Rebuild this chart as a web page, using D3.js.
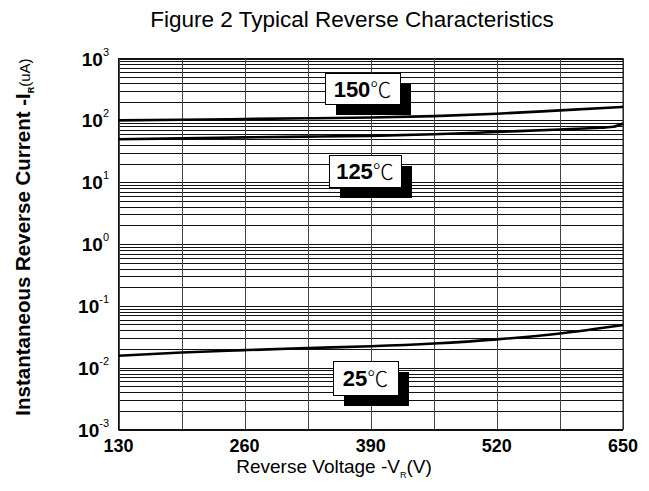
<!DOCTYPE html>
<html>
<head>
<meta charset="utf-8">
<script src="https://cdn.jsdelivr.net/npm/d3@7"></script>
<style>
  body { margin: 0; background: #fff; }
  text { font-family: "Liberation Sans", Arial, sans-serif; }
</style>
</head>
<body>
<div id="chart"></div>
<script>
"use strict";

// values (V in volts, I in uA)
const volts150 = [130, 195, 260, 325, 390, 455, 520, 585, 650];
const current150 = [100, 102, 105, 108, 111, 117, 128, 145, 165];

const volts125 = [130, 195, 260, 325, 390, 455, 520, 585, 620, 640, 650];
const current125 = [49.5, 51, 53, 54.5, 56, 59.5, 65, 71, 75, 79, 89];

const volts25 = [130, 195, 260, 325, 390, 455, 520, 585, 650];
const current25 = [0.0156, 0.0176, 0.0192, 0.0208, 0.0222, 0.0246, 0.0287, 0.0357, 0.049];

const gridVolts = [130, 195, 260, 325, 390, 455, 520, 585, 650];
const labelVolts = [130, 260, 390, 520, 650];
const decades = [-3, -2, -1, 0, 1, 2, 3];
const tempLabels = ["150", "125", "25"];

const W = 649, H = 491;
const plotL = 118.5, plotR = 623, plotT = 58.5, plotB = 429.5;

const x = d3.scaleLinear().domain([130, 650]).range([plotL, plotR]);
const y = d3.scaleLog().domain([1e-3, 1e3]).range([plotB, plotT]);

const svg = d3.select("#chart").append("svg")
  .attr("width", W)
  .attr("height", H);

// minor + major horizontal grid
const hLines = [];
decades.slice(0, -1).forEach(e => {
  for (let m = 1; m < 10; m++) hLines.push(m * Math.pow(10, e));
});
hLines.push(1e3);

svg.append("g")
  .selectAll("line")
  .data(hLines)
  .enter()
  .append("line")
  .attr("x1", plotL).attr("x2", plotR)
  .attr("y1", d => Math.round(y(d)) + 0.5)
  .attr("y2", d => Math.round(y(d)) + 0.5)
  .attr("stroke", "#111")
  .attr("stroke-width", 1);

svg.append("g")
  .selectAll("line")
  .data(gridVolts)
  .enter()
  .append("line")
  .attr("x1", d => Math.round(x(d)) + 0.5)
  .attr("x2", d => Math.round(x(d)) + 0.5)
  .attr("y1", plotT).attr("y2", plotB)
  .attr("stroke", "#444")
  .attr("stroke-width", 1);

svg.append("rect")
  .attr("x", plotL).attr("y", plotT)
  .attr("width", plotR - plotL).attr("height", plotB - plotT)
  .attr("fill", "none")
  .attr("stroke", "#111");

// curves
const line = d3.line()
  .x(d => x(d[0]))
  .y(d => y(d[1]))
  .curve(d3.curveMonotoneX);

const series = [
  d3.zip(volts150, current150),
  d3.zip(volts125, current125),
  d3.zip(volts25, current25)
];

svg.append("g")
  .selectAll("path")
  .data(series)
  .enter()
  .append("path")
  .attr("d", line)
  .attr("fill", "none")
  .attr("stroke", "#000")
  .attr("stroke-width", 2.6);

// y tick labels 10^n
const yTicks = svg.append("g")
  .selectAll("text")
  .data(decades)
  .enter()
  .append("text")
  .attr("x", 109)
  .attr("y", d => y(Math.pow(10, d)) + 7)
  .attr("text-anchor", "end")
  .attr("font-size", 19)
  .attr("font-weight", "bold");
yTicks.append("tspan").text("10");
yTicks.append("tspan")
  .attr("dy", -10)
  .attr("font-size", 11)
  .attr("font-weight", "normal")
  .text(d => d);

// x tick labels
svg.append("g")
  .selectAll("text")
  .data(labelVolts)
  .enter()
  .append("text")
  .attr("x", d => x(d))
  .attr("y", 452)
  .attr("text-anchor", "middle")
  .attr("font-size", 18)
  .attr("font-weight", "bold")
  .text(d => d);

// titles
svg.append("text")
  .attr("x", 352).attr("y", 27)
  .attr("text-anchor", "middle")
  .attr("font-size", 22.5)
  .text("Figure 2 Typical Reverse Characteristics");

const xTitle = svg.append("text")
  .attr("x", 334).attr("y", 473)
  .attr("text-anchor", "middle")
  .attr("font-size", 19);
xTitle.append("tspan").text("Reverse Voltage -V");
xTitle.append("tspan").attr("font-size", 9).attr("dy", 5).text("R");
xTitle.append("tspan").attr("dy", -5).text("(V)");

const yTitle = svg.append("text")
  .attr("transform", "translate(30,237) rotate(-90)")
  .attr("text-anchor", "middle")
  .attr("font-size", 20.5)
  .attr("font-weight", "bold");
yTitle.append("tspan").text("Instantaneous Reverse Current -I");
yTitle.append("tspan").attr("font-size", 9).attr("dy", 4).text("R");
yTitle.append("tspan").attr("dy", -4).attr("font-size", 15).attr("font-weight", "normal").text("(uA)");

// temperature tags with drop shadow
const tagBoxes = [
  { x: 325, y: 73, w: 75, h: 31 },
  { x: 329, y: 155, w: 72, h: 32 },
  { x: 333, y: 361, w: 65, h: 34 }
];

const tags = svg.append("g")
  .selectAll("g")
  .data(tempLabels)
  .enter()
  .append("g")
  .attr("transform", (d, i) => `translate(${tagBoxes[i].x},${tagBoxes[i].y})`);

tags.append("rect")
  .attr("x", 11).attr("y", 11)
  .attr("width", (d, i) => tagBoxes[i].w)
  .attr("height", (d, i) => tagBoxes[i].h)
  .attr("fill", "#000");

tags.append("rect")
  .attr("x", 0.5).attr("y", 0.5)
  .attr("width", (d, i) => tagBoxes[i].w)
  .attr("height", (d, i) => tagBoxes[i].h)
  .attr("fill", "#fff")
  .attr("stroke", "#000");

const tagText = tags.append("text")
  .attr("x", (d, i) => tagBoxes[i].w / 2)
  .attr("y", (d, i) => tagBoxes[i].h / 2 + 8)
  .attr("text-anchor", "middle")
  .attr("font-size", 22);
tagText.append("tspan").attr("font-weight", "bold").text(d => d);
tagText.append("tspan")
  .attr("font-family", "'Noto Sans CJK SC', sans-serif")
  .attr("font-weight", 300)
  .attr("font-size", 21)
  .text("\u2103");
</script>
</body>
</html>
